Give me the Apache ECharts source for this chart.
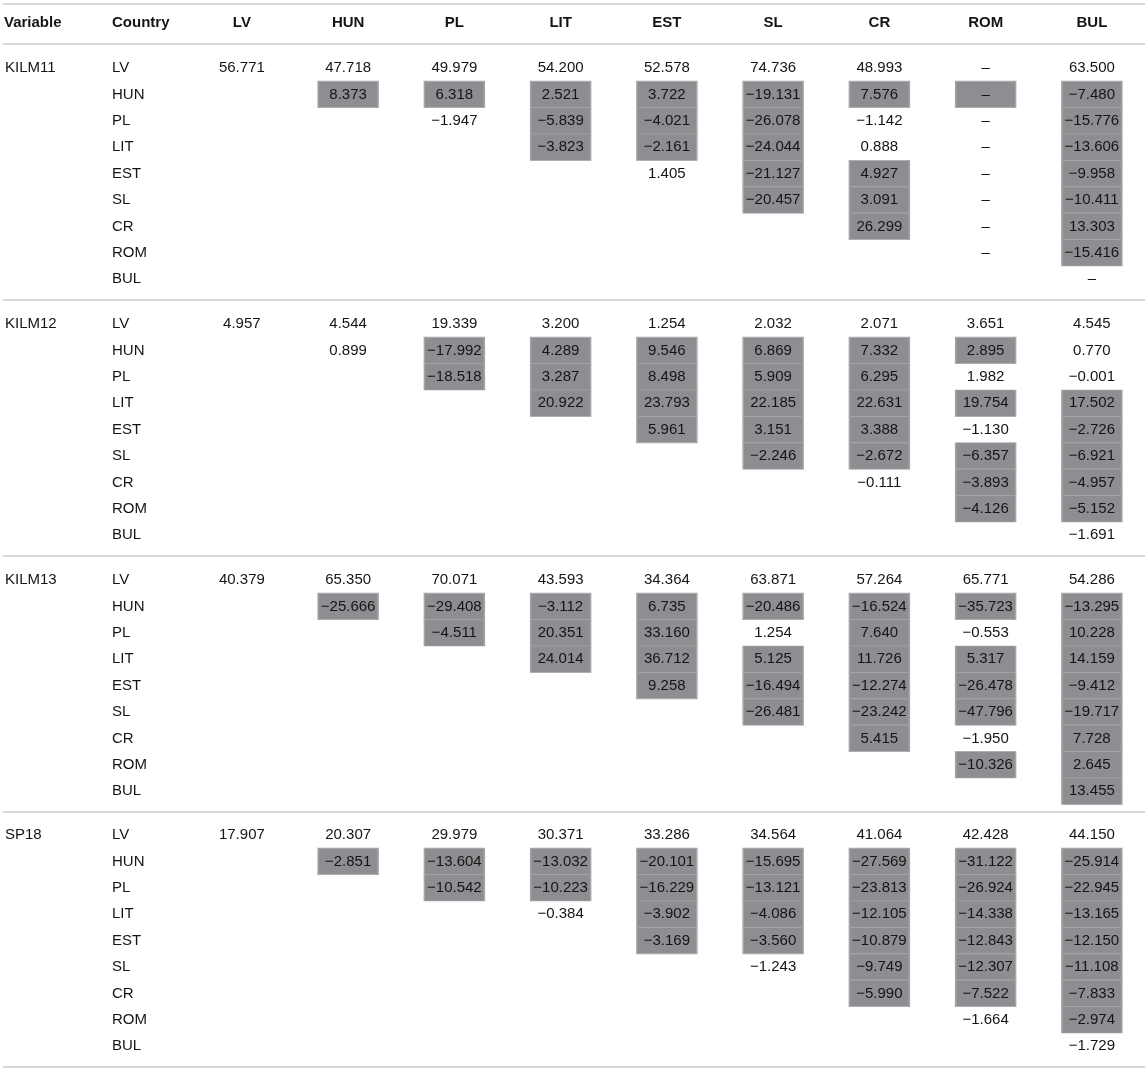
<!DOCTYPE html>
<html>
<head>
<meta charset="utf-8">
<script src="https://cdn.jsdelivr.net/npm/echarts@6/dist/echarts.min.js"></script>
<style>
  html, body { margin: 0; padding: 0; background: #fff; }
  #chart { width: 1145px; height: 1071px; }
</style>
</head>
<body>
<div id="chart"></div>
<script>
const stubHeads = ['Variable', 'Country'];
const countries = ['LV', 'HUN', 'PL', 'LIT', 'EST', 'SL', 'CR', 'ROM', 'BUL'];
const variables = ['KILM11', 'KILM12', 'KILM13', 'SP18'];
const D = '–';

// values per variable: rows = country (LV..BUL), cols = country (LV..BUL)
const kilm11 = [
    [56.771, 47.718, 49.979, 54.200, 52.578, 74.736, 48.993, D, 63.500],
    [null, 8.373, 6.318, 2.521, 3.722, -19.131, 7.576, D, -7.480],
    [null, null, -1.947, -5.839, -4.021, -26.078, -1.142, D, -15.776],
    [null, null, null, -3.823, -2.161, -24.044, 0.888, D, -13.606],
    [null, null, null, null, 1.405, -21.127, 4.927, D, -9.958],
    [null, null, null, null, null, -20.457, 3.091, D, -10.411],
    [null, null, null, null, null, null, 26.299, D, 13.303],
    [null, null, null, null, null, null, null, D, -15.416],
    [null, null, null, null, null, null, null, null, D]
];
const kilm12 = [
    [4.957, 4.544, 19.339, 3.200, 1.254, 2.032, 2.071, 3.651, 4.545],
    [null, 0.899, -17.992, 4.289, 9.546, 6.869, 7.332, 2.895, 0.770],
    [null, null, -18.518, 3.287, 8.498, 5.909, 6.295, 1.982, -0.001],
    [null, null, null, 20.922, 23.793, 22.185, 22.631, 19.754, 17.502],
    [null, null, null, null, 5.961, 3.151, 3.388, -1.130, -2.726],
    [null, null, null, null, null, -2.246, -2.672, -6.357, -6.921],
    [null, null, null, null, null, null, -0.111, -3.893, -4.957],
    [null, null, null, null, null, null, null, -4.126, -5.152],
    [null, null, null, null, null, null, null, null, -1.691]
];
const kilm13 = [
    [40.379, 65.350, 70.071, 43.593, 34.364, 63.871, 57.264, 65.771, 54.286],
    [null, -25.666, -29.408, -3.112, 6.735, -20.486, -16.524, -35.723, -13.295],
    [null, null, -4.511, 20.351, 33.160, 1.254, 7.640, -0.553, 10.228],
    [null, null, null, 24.014, 36.712, 5.125, 11.726, 5.317, 14.159],
    [null, null, null, null, 9.258, -16.494, -12.274, -26.478, -9.412],
    [null, null, null, null, null, -26.481, -23.242, -47.796, -19.717],
    [null, null, null, null, null, null, 5.415, -1.950, 7.728],
    [null, null, null, null, null, null, null, -10.326, 2.645],
    [null, null, null, null, null, null, null, null, 13.455]
];
const sp18 = [
    [17.907, 20.307, 29.979, 30.371, 33.286, 34.564, 41.064, 42.428, 44.150],
    [null, -2.851, -13.604, -13.032, -20.101, -15.695, -27.569, -31.122, -25.914],
    [null, null, -10.542, -10.223, -16.229, -13.121, -23.813, -26.924, -22.945],
    [null, null, null, -0.384, -3.902, -4.086, -12.105, -14.338, -13.165],
    [null, null, null, null, -3.169, -3.560, -10.879, -12.843, -12.150],
    [null, null, null, null, null, -1.243, -9.749, -12.307, -11.108],
    [null, null, null, null, null, null, -5.990, -7.522, -7.833],
    [null, null, null, null, null, null, null, -1.664, -2.974],
    [null, null, null, null, null, null, null, null, -1.729]
];

// shaded (significant) cells
const shade11 = [
    [0, 0, 0, 0, 0, 0, 0, 0, 0],
    [0, 1, 1, 1, 1, 1, 1, 1, 1],
    [0, 0, 0, 1, 1, 1, 0, 0, 1],
    [0, 0, 0, 1, 1, 1, 0, 0, 1],
    [0, 0, 0, 0, 0, 1, 1, 0, 1],
    [0, 0, 0, 0, 0, 1, 1, 0, 1],
    [0, 0, 0, 0, 0, 0, 1, 0, 1],
    [0, 0, 0, 0, 0, 0, 0, 0, 1],
    [0, 0, 0, 0, 0, 0, 0, 0, 0]
];
const shade12 = [
    [0, 0, 0, 0, 0, 0, 0, 0, 0],
    [0, 0, 1, 1, 1, 1, 1, 1, 0],
    [0, 0, 1, 1, 1, 1, 1, 0, 0],
    [0, 0, 0, 1, 1, 1, 1, 1, 1],
    [0, 0, 0, 0, 1, 1, 1, 0, 1],
    [0, 0, 0, 0, 0, 1, 1, 1, 1],
    [0, 0, 0, 0, 0, 0, 0, 1, 1],
    [0, 0, 0, 0, 0, 0, 0, 1, 1],
    [0, 0, 0, 0, 0, 0, 0, 0, 0]
];
const shade13 = [
    [0, 0, 0, 0, 0, 0, 0, 0, 0],
    [0, 1, 1, 1, 1, 1, 1, 1, 1],
    [0, 0, 1, 1, 1, 0, 1, 0, 1],
    [0, 0, 0, 1, 1, 1, 1, 1, 1],
    [0, 0, 0, 0, 1, 1, 1, 1, 1],
    [0, 0, 0, 0, 0, 1, 1, 1, 1],
    [0, 0, 0, 0, 0, 0, 1, 0, 1],
    [0, 0, 0, 0, 0, 0, 0, 1, 1],
    [0, 0, 0, 0, 0, 0, 0, 0, 1]
];
const shade18 = [
    [0, 0, 0, 0, 0, 0, 0, 0, 0],
    [0, 1, 1, 1, 1, 1, 1, 1, 1],
    [0, 0, 1, 1, 1, 1, 1, 1, 1],
    [0, 0, 0, 0, 1, 1, 1, 1, 1],
    [0, 0, 0, 0, 1, 1, 1, 1, 1],
    [0, 0, 0, 0, 0, 0, 1, 1, 1],
    [0, 0, 0, 0, 0, 0, 1, 1, 1],
    [0, 0, 0, 0, 0, 0, 0, 0, 1],
    [0, 0, 0, 0, 0, 0, 0, 0, 0]
];

const tables = [kilm11, kilm12, kilm13, sp18];
const shades = [shade11, shade12, shade13, shade18];

const FONT = '"Liberation Sans", Arial, Helvetica, sans-serif';
const INK = '#161414';
const FS = 15;
const ROW_H = 26.4;
const GRID_LEFT = 188.75;
const GRID_W = 976.5;
const HEAD_Y = 23;
const gridTops = [54.8, 310.8, 566.8, 821.8];
const rules = [4, 44, 300, 556, 812, 1067];
const stubX = [4, 112];

function fmt(v) {
    if (typeof v === 'string') return v;
    return v.toFixed(3).replace('-', '\u2212');
}

let grids = [], xAxes = [], yAxes = [], series = [];

tables.forEach((tbl, g) => {
    grids.push({ left: GRID_LEFT, width: GRID_W, top: gridTops[g], height: ROW_H * 9 });

    xAxes.push({
        type: 'category',
        gridIndex: g,
        data: countries,
        position: 'top',
        show: g === 0,
        axisLine: { show: false },
        axisTick: { show: false },
        splitLine: { show: false },
        axisLabel: {
            margin: gridTops[0] - HEAD_Y,
            verticalAlign: 'middle',
            fontFamily: FONT,
            fontSize: FS,
            fontWeight: 'bold',
            color: INK
        }
    });

    yAxes.push({
        type: 'category',
        gridIndex: g,
        data: countries,
        inverse: true,
        axisLine: { show: false },
        axisTick: { show: false },
        splitLine: { show: false },
        axisLabel: {
            align: 'left',
            margin: GRID_LEFT - stubX[0] - 1,
            formatter: (val, idx) => '{v|' + (idx === 0 ? variables[g] : ' ') + '}{c|' + val + '}',
            rich: {
                v: { width: stubX[1] - stubX[0] - 1, fontFamily: FONT, fontSize: FS, color: INK },
                c: { fontFamily: FONT, fontSize: FS, color: INK }
            }
        }
    });

    let data = [];
    tbl.forEach((row, r) => {
        row.forEach((v, c) => {
            if (v === null) return;
            let on = shades[g][r][c] === 1;
            data.push({
                value: [c, r, fmt(v)],
                symbolSize: on ? [60, ROW_H] : 1,
                itemStyle: on
                    ? { color: '#8e8e92', borderColor: '#a6a6a9', borderWidth: 1, opacity: 1 }
                    : { color: 'rgba(0,0,0,0)', opacity: 1 }
            });
        });
    });

    series.push({
        type: 'scatter',
        xAxisIndex: g,
        yAxisIndex: g,
        symbol: 'rect',
        silent: true,
        itemStyle: { opacity: 1 },
        data: data,
        label: {
            show: true,
            position: 'inside',
            formatter: p => p.value[2],
            fontFamily: FONT,
            fontSize: FS,
            color: INK
        }
    });
});

const graphics = rules.map(y => ({
    type: 'line',
    shape: { x1: 3, y1: y, x2: 1145, y2: y },
    style: { stroke: '#c8c8c8', lineWidth: 1.5 },
    silent: true
})).concat(stubHeads.map((t, i) => ({
    type: 'text',
    x: stubX[i],
    y: HEAD_Y,
    silent: true,
    style: {
        text: t,
        fontFamily: FONT,
        fontSize: FS,
        fontWeight: 'bold',
        fill: INK,
        align: 'left',
        verticalAlign: 'middle'
    }
})));

const chart = echarts.init(document.getElementById('chart'));
chart.setOption({
    backgroundColor: '#fff',
    animation: false,
    grid: grids,
    xAxis: xAxes,
    yAxis: yAxes,
    series: series,
    graphic: graphics
});
</script>
</body>
</html>
